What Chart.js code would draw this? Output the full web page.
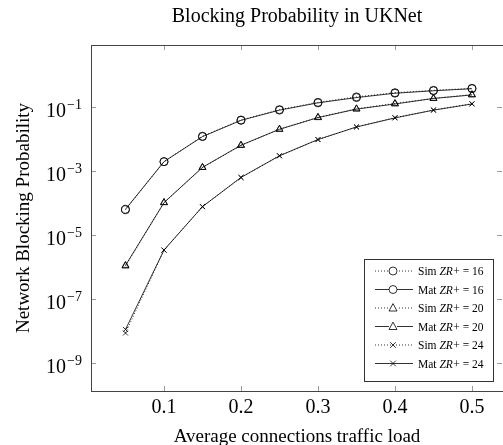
<!DOCTYPE html>
<html>
<head>
<meta charset="utf-8">
<script src="https://cdn.jsdelivr.net/npm/chart.js"></script>
<style>
  html, body { margin: 0; padding: 0; background: #fff; }
  canvas { display: block; }
</style>
</head>
<body>
<canvas id="chart" width="503" height="445"></canvas>
<script>
// Blocking probability in UKNet, simulation vs. mathematical model
const loads = [0.05, 0.1, 0.15, 0.2, 0.25, 0.3, 0.35, 0.4, 0.45, 0.5];

const sim16 = [6.0e-5, 1.9e-3, 0.0118, 0.038, 0.080, 0.135, 0.20, 0.27, 0.32, 0.37];
const mat16 = [6.2e-5, 1.9e-3, 0.0115, 0.037, 0.077, 0.130, 0.19, 0.26, 0.31, 0.36];
const sim20 = [1.05e-6, 1.0e-4, 1.25e-3, 6.1e-3, 0.0195, 0.046, 0.085, 0.125, 0.18, 0.235];
const mat20 = [1.1e-6, 1.0e-4, 1.26e-3, 6.2e-3, 0.0195, 0.045, 0.083, 0.120, 0.178, 0.23];
const sim24 = [8.5e-9, 3.3e-6, 7.5e-5, 6.1e-4, 2.9e-3, 9.3e-3, 0.023, 0.045, 0.078, 0.122];
const mat24 = [1.1e-8, 3.3e-6, 7.5e-5, 6.1e-4, 2.9e-3, 9.3e-3, 0.023, 0.044, 0.077, 0.120];

const xTicks = [0.1, 0.2, 0.3, 0.4, 0.5];
const yExponents = [-1, -3, -5, -7, -9];

const SERIF = '"Liberation Serif", "DejaVu Serif", serif';

const series = [
    { name: 'Sim', zr: 16, values: sim16, marker: 'circle', dotted: true },
    { name: 'Mat', zr: 16, values: mat16, marker: 'circle', dotted: false },
    { name: 'Sim', zr: 20, values: sim20, marker: 'triangle', dotted: true },
    { name: 'Mat', zr: 20, values: mat20, marker: 'triangle', dotted: false },
    { name: 'Sim', zr: 24, values: sim24, marker: 'crossRot', dotted: true },
    { name: 'Mat', zr: 24, values: mat24, marker: 'crossRot', dotted: false }
];

function drawMarker(ctx, style, x, y, r) {
    ctx.beginPath();
    if (style === 'circle') {
        ctx.arc(x, y, r, 0, Math.PI * 2);
    } else if (style === 'triangle') {
        ctx.moveTo(x, y - r * 1.1);
        ctx.lineTo(x + r, y + r * 0.75);
        ctx.lineTo(x - r, y + r * 0.75);
        ctx.closePath();
    } else {
        ctx.moveTo(x - r * 0.8, y - r * 0.8);
        ctx.lineTo(x + r * 0.8, y + r * 0.8);
        ctx.moveTo(x + r * 0.8, y - r * 0.8);
        ctx.lineTo(x - r * 0.8, y + r * 0.8);
    }
    ctx.stroke();
}

// frame, inward ticks, tick labels, axis titles, title and legend
const decorPlugin = {
    id: 'decor',
    afterDraw(chart) {
        const ctx = chart.ctx;
        const a = chart.chartArea;
        const xs = chart.scales.x;
        const ys = chart.scales.y;
        ctx.save();

        // inward tick marks
        ctx.strokeStyle = '#9a9a9a';
        ctx.lineWidth = 1;
        ctx.beginPath();
        xTicks.forEach(v => {
            const px = Math.round(xs.getPixelForValue(v)) + 0.5;
            ctx.moveTo(px, a.bottom); ctx.lineTo(px, a.bottom - 5);
            ctx.moveTo(px, a.top); ctx.lineTo(px, a.top + 5);
        });
        yExponents.forEach(e => {
            const py = Math.round(ys.getPixelForValue(Math.pow(10, e))) + 0.5;
            ctx.moveTo(a.left, py); ctx.lineTo(a.left + 5, py);
            ctx.moveTo(a.right - 1, py); ctx.lineTo(a.right - 6, py);
        });
        ctx.stroke();

        // frame
        ctx.strokeStyle = '#444';
        ctx.lineWidth = 1;
        ctx.strokeRect(a.left + 0.5, a.top + 0.5, a.right - a.left, a.bottom - a.top);

        // x tick labels
        ctx.fillStyle = '#000';
        ctx.font = '20px ' + SERIF;
        ctx.textAlign = 'center';
        ctx.textBaseline = 'alphabetic';
        xTicks.forEach(v => {
            ctx.fillText(v.toFixed(1), xs.getPixelForValue(v), a.bottom + 22);
        });

        // y tick labels, 10 with superscript exponent
        yExponents.forEach(e => {
            const py = ys.getPixelForValue(Math.pow(10, e));
            const exp = '\u2212' + Math.abs(e);
            ctx.font = '14px ' + SERIF;
            const we = ctx.measureText(exp).width;
            ctx.textAlign = 'left';
            const right = a.left - 9;
            ctx.fillText(exp, right - we, py + 2);
            ctx.font = '20px ' + SERIF;
            const wb = ctx.measureText('10').width;
            ctx.fillText('10', right - we - wb - 1, py + 10);
        });

        // axis titles
        ctx.font = '19px ' + SERIF;
        ctx.textAlign = 'center';
        ctx.fillText('Average connections traffic load', (a.left + a.right) / 2, 442);
        ctx.save();
        ctx.translate(29, (a.top + a.bottom) / 2);
        ctx.rotate(-Math.PI / 2);
        ctx.fillText('Network Blocking Probability', 0, 0);
        ctx.restore();

        // title
        ctx.font = '20px ' + SERIF;
        ctx.fillText('Blocking Probability in UKNet', (a.left + a.right) / 2, 22);

        // legend
        const lx = 364, ly = 259, lw = 129, lh = 122;
        ctx.fillStyle = '#fff';
        ctx.fillRect(lx, ly, lw, lh);
        ctx.strokeStyle = '#333';
        ctx.lineWidth = 1;
        ctx.strokeRect(lx + 0.5, ly + 0.5, lw, lh);
        series.forEach((s, i) => {
            const cy = 271 + i * 18.5;
            ctx.strokeStyle = '#000';
            ctx.lineWidth = 0.8;
            ctx.setLineDash(s.dotted ? [1, 2] : []);
            ctx.beginPath();
            ctx.moveTo(lx + 11, cy); ctx.lineTo(lx + 49, cy);
            ctx.stroke();
            ctx.setLineDash([]);
            ctx.fillStyle = '#fff';
            ctx.beginPath();
            if (s.marker !== 'crossRot') {
                ctx.fillRect(lx + 25, cy - 4, 8, 8);
            }
            drawMarker(ctx, s.marker, lx + 29, cy, s.marker === 'crossRot' ? 3.5 : 4);
            ctx.fillStyle = '#000';
            ctx.textAlign = 'left';
            let tx = lx + 54;
            ctx.font = '11.5px ' + SERIF;
            ctx.fillText(s.name + ' ', tx, cy + 4);
            tx += ctx.measureText(s.name + ' ').width;
            ctx.font = 'italic 11.5px ' + SERIF;
            ctx.fillText('ZR', tx, cy + 4);
            tx += ctx.measureText('ZR').width + 0.5;
            ctx.font = '11.5px ' + SERIF;
            ctx.fillText('+ = ' + s.zr, tx, cy + 4);
        });

        ctx.restore();
    }
};

const datasets = series.map(s => ({
    label: s.name + ' ZR+ = ' + s.zr,
    data: loads.map((x, i) => ({ x: x, y: s.values[i] })),
    borderColor: '#000',
    borderWidth: 0.8,
    borderDash: s.dotted ? [1, 2] : [],
    pointStyle: s.marker,
    pointRadius: s.marker === 'crossRot' ? 3.5 : 4,
    pointBorderColor: '#000',
    pointBackgroundColor: 'rgba(0,0,0,0)',
    pointBorderWidth: 0.8,
    tension: 0,
    fill: false
}));

new Chart(document.getElementById('chart').getContext('2d'), {
    type: 'line',
    data: { datasets: datasets },
    options: {
        responsive: false,
        animation: false,
        devicePixelRatio: 1,
        layout: { autoPadding: false, padding: { top: 45, right: 0, left: 0, bottom: 0 } },
        plugins: {
            legend: { display: false },
            title: { display: false },
            tooltip: { enabled: false }
        },
        scales: {
            x: {
                type: 'linear',
                min: 0.0052,
                max: 0.5403,
                grid: { display: false },
                border: { display: false },
                ticks: { display: false },
                afterFit(scale) { scale.height = 54; }
            },
            y: {
                type: 'logarithmic',
                min: Math.pow(10, -9.88),
                max: Math.pow(10, 0.92),
                grid: { display: false },
                border: { display: false },
                ticks: { display: false },
                afterFit(scale) { scale.width = 91; }
            }
        }
    },
    plugins: [decorPlugin]
});
</script>
</body>
</html>
